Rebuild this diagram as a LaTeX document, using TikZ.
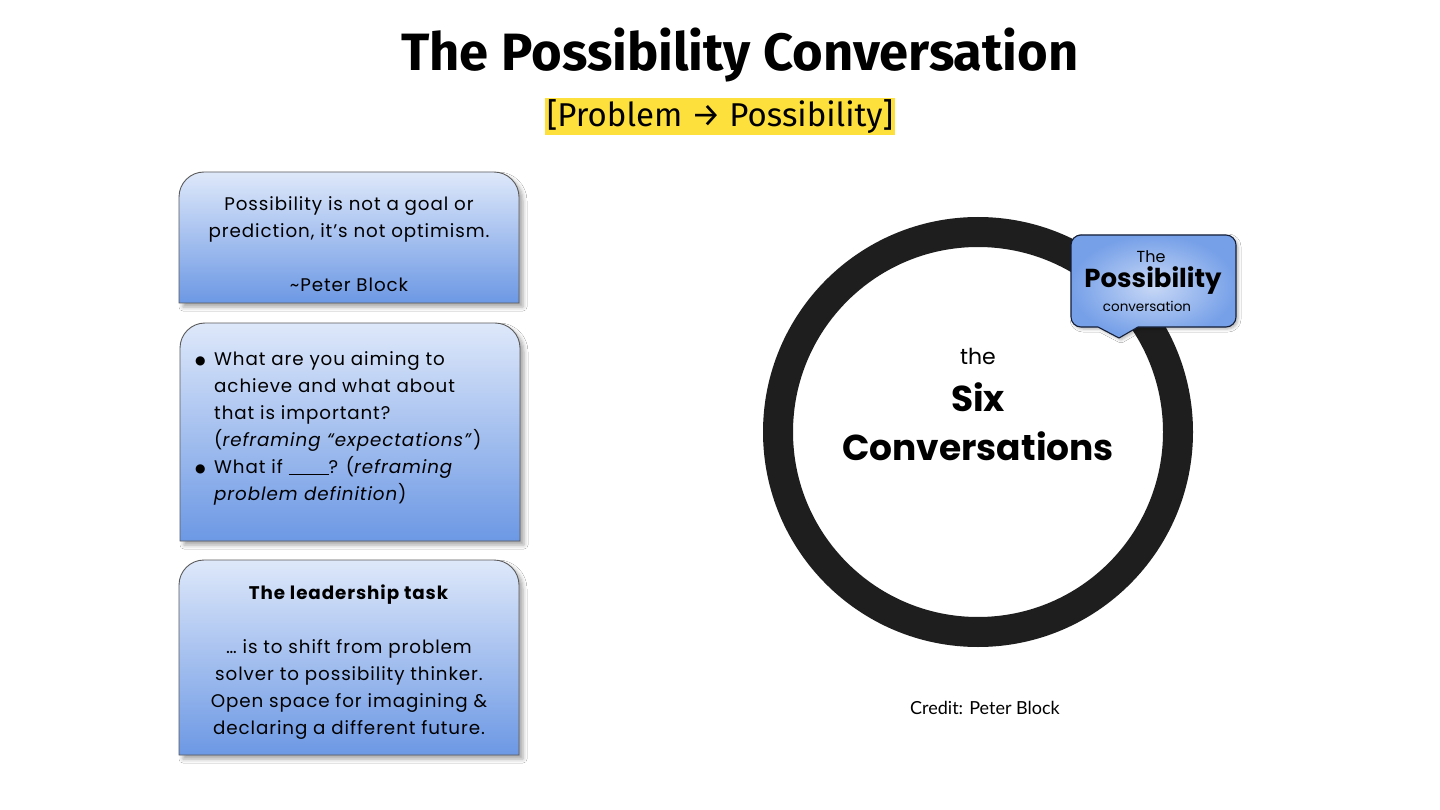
\documentclass[tikz,border=0pt]{standalone}
\usepackage{fontspec}
\setmainfont{Poppins}
\newfontfamily\boxfont[LetterSpace=5]{Poppins}
\newfontfamily\titlefont{Fira Sans}
\newfontfamily\creditfont{Lato}
\newfontfamily\symfont{DejaVu Sans}
\usetikzlibrary{shadows.blur}
\definecolor{boxtop}{RGB}{222,232,250}
\definecolor{boxbot}{RGB}{108,152,228}
\definecolor{boxline}{RGB}{90,90,90}
\definecolor{ringcol}{RGB}{30,30,30}
\definecolor{hl}{RGB}{253,224,60}
\definecolor{callin}{RGB}{200,216,246}
\definecolor{callout}{RGB}{118,160,232}
\definecolor{callline}{RGB}{20,30,55}
\newcommand{\bul}{\makebox[19pt][l]{\raisebox{1pt}{\symfont\fontsize{12}{12}\selectfont ●}}}
\newcommand{\ind}{\hspace*{19pt}}
\tikzset{
  x=1pt,y=1pt,
  tabbox/.style={draw=boxline, line width=0.9pt, top color=boxtop, bottom color=boxbot,
     blur shadow={shadow xshift=4pt, shadow yshift=-4pt, shadow blur radius=4pt, shadow opacity=35}},
  boxtext/.style={inner sep=0pt, font=\boxfont\fontsize{18.3}{27}\selectfont, text=black},
}
\begin{document}
\begin{tikzpicture}
\useasboundingbox[fill=white] (0,0) rectangle (1440,-810);

% title
\node[font=\titlefont\bfseries\fontsize{52.5}{56}\selectfont] (title) at (740,-55) {The Possibility Conversation};
\node[fill=hl, inner sep=0pt, minimum width=350pt, minimum height=37pt, font=\titlefont\fontsize{33}{36}\selectfont] (sub) at (720,-116.5) {[Problem → Possibility]};

% box 1
\path[tabbox] (179,-303) -- (179,-197) arc[start angle=180,end angle=90,radius=25] -- (494,-172) arc[start angle=90,end angle=0,radius=25] -- (519,-303) -- cycle;
\node[boxtext, align=center] (q1) at (349,-244) {Possibility is not a goal or\\prediction, it’s not optimism.\\[27pt]\textasciitilde Peter Block};

% box 2
\path[tabbox] (180,-541) -- (180,-348) arc[start angle=180,end angle=90,radius=25] -- (495,-323) arc[start angle=90,end angle=0,radius=25] -- (520,-541) -- cycle;
\node[boxtext, align=left, anchor=west] (q2) at (195,-428.5) {\bul What are you aiming to\\
\ind achieve and what about\\
\ind that is important?\\
\ind(\textit{reframing “expectations”})\\
\bul What if \rule[-1pt]{40pt}{0.9pt}? (\textit{reframing}\\
\ind\textit{problem definition})};

% box 3
\path[tabbox] (179,-755) -- (179,-585) arc[start angle=180,end angle=90,radius=25] -- (494,-560) arc[start angle=90,end angle=0,radius=25] -- (519,-755) -- cycle;
\node[boxtext, align=center] (q3) at (349,-662.5) {\textbf{The leadership task}\\[27pt]… is to shift from problem\\solver to possibility thinker.\\Open space for imagining \&\\declaring a different future.};

% ring
\draw[ringcol, line width=30pt] (978,-432) circle[radius=200];
\node[font=\fontsize{22}{24}\selectfont] (the) at (978,-356) {the};
\node[font=\bfseries\fontsize{36}{38}\selectfont] (six) at (978,-397) {Six};
\node[font=\bfseries\fontsize{36}{38}\selectfont] (conv) at (978,-446) {Conversations};

% callout
\path[draw=callline, line width=1.1pt, inner color=callin, outer color=callout,
      blur shadow={shadow xshift=2pt, shadow yshift=-2pt, shadow blur radius=3pt, shadow opacity=30}]
  (1081,-235) -- (1226,-235) arc[start angle=90,end angle=0,radius=10] -- (1236,-317)
  arc[start angle=0,end angle=-90,radius=10] -- (1138,-327) -- (1119,-338) -- (1098,-327)
  -- (1081,-327) arc[start angle=270,end angle=180,radius=10] -- (1071,-245)
  arc[start angle=180,end angle=90,radius=10] -- cycle;
\node[font=\fontsize{16}{18}\selectfont] (cthe) at (1151,-257) {The};
\node[font=\bfseries\fontsize{26}{28}\selectfont] (cposs) at (1153,-281) {Possibility};
\node[font=\fontsize{13.5}{15}\selectfont] (cconv) at (1147,-306) {conversation};

% credit
\node[font=\creditfont\fontsize{18}{20}\selectfont] (credit) at (985,-708) {Credit: Peter Block};
\end{tikzpicture}
\end{document}
